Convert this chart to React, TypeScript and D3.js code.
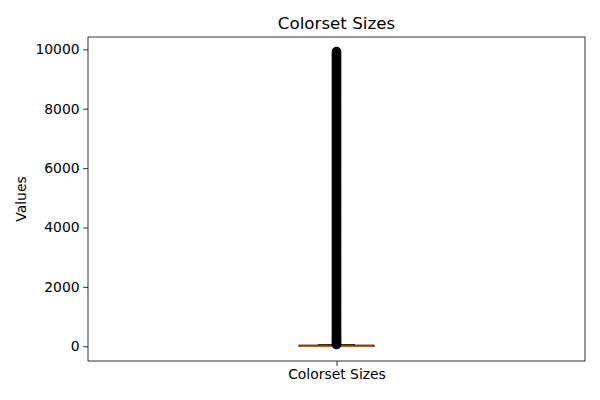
import React, { useEffect, useRef } from "react";
import * as d3 from "d3";

const category = "Colorset Sizes";
const yTicks = [0, 2000, 4000, 6000, 8000, 10000];

// box statistics (values)
const whiskerLow = 0;
const q1 = 1;
const median = 6;
const q3 = 30;
const whiskerHigh = 45;

// outliers above the upper whisker
const fliers = [
  60, 112, 170, 226, 281, 339, 402, 466, 527, 590, 651,
  718, 779, 843, 905, 968, 1031, 1094, 1160, 1221, 1285,
  1349, 1410, 1476, 1538, 1602, 1665, 1729, 1790, 1856, 1918,
  1981, 2045, 2108, 2172, 2236, 2299, 2361, 2427, 2490, 2552,
  2617, 2680, 2744, 2806, 2871, 2933, 2997, 3062, 3124, 3189,
  3251, 3315, 3378, 3442, 3505, 3569, 3632, 3695, 3760, 3822,
  3887, 3949, 4013, 4077, 4140, 4204, 4267, 4331, 4394, 4458,
  4522, 4585, 4649, 4712, 4776, 4839, 4903, 4966, 5030, 5094,
  5157, 5221, 5284, 5348, 5411, 5475, 5539, 5602, 5666, 5729,
  5793, 5856, 5920, 5983, 6047, 6111, 6174, 6238, 6301, 6365,
  6428, 6492, 6556, 6619, 6683, 6746, 6810, 6873, 6937, 7000,
  7064, 7128, 7191, 7255, 7318, 7382, 7445, 7509, 7573, 7636,
  7700, 7763, 7827, 7890, 7954, 8017, 8081, 8145, 8208, 8272,
  8335, 8399, 8462, 8526, 8590, 8653, 8717, 8780, 8844, 8907,
  8971, 9034, 9098, 9162, 9225, 9289, 9352, 9416, 9479, 9543,
  9606, 9670, 9733, 9797, 9860, 9920,
];

const App: React.FC = () => {
  const svgRef = useRef<SVGSVGElement | null>(null);

  useEffect(() => {
    const svg = d3.select(svgRef.current);
    svg.selectAll("*").remove();

    const margin = { top: 37, right: 15, bottom: 39, left: 88 };
    const width = 600 - margin.left - margin.right;
    const height = 400 - margin.top - margin.bottom;
    const font = "DejaVu Sans, sans-serif";

    const lo = Math.min(whiskerLow, d3.min(fliers) ?? 0);
    const hi = Math.max(whiskerHigh, d3.max(fliers) ?? 0);
    const pad = (hi - lo) * 0.05;

    const y = d3.scaleLinear().domain([lo - pad, hi + pad]).range([height, 0]);
    const x = d3.scaleLinear().domain([0.5, 1.5]).range([0, width]);

    const g = svg
      .append("g")
      .attr("transform", `translate(${margin.left},${margin.top})`);

    // y axis
    const yAxis = g
      .append("g")
      .call(d3.axisLeft(y).tickValues(yTicks).tickSize(4.9).tickPadding(3.5).tickFormat(d3.format("d")));
    yAxis.select(".domain").remove();
    yAxis.selectAll("text").attr("font-family", font).attr("font-size", 13.9).attr("fill", "#000");
    yAxis.selectAll("line").attr("stroke", "#000").attr("stroke-width", 0.8);

    // x axis
    const xAxis = g
      .append("g")
      .attr("transform", `translate(0,${height})`)
      .call(d3.axisBottom(x).tickValues([1]).tickSize(4.9).tickPadding(3.5).tickFormat(() => category));
    xAxis.select(".domain").remove();
    xAxis.selectAll("text").attr("font-family", font).attr("font-size", 13.9).attr("fill", "#000");
    xAxis.selectAll("line").attr("stroke", "#000").attr("stroke-width", 0.8);

    const cx = x(1);
    const boxHalf = x(1.075) - x(1);
    const capHalf = x(1.0375) - x(1);

    // whiskers
    g.append("line")
      .attr("x1", cx).attr("x2", cx)
      .attr("y1", y(whiskerLow)).attr("y2", y(q1))
      .attr("stroke", "#000").attr("stroke-width", 1.4);
    g.append("line")
      .attr("x1", cx).attr("x2", cx)
      .attr("y1", y(q3)).attr("y2", y(whiskerHigh))
      .attr("stroke", "#000").attr("stroke-width", 1.4);

    // caps
    [whiskerLow, whiskerHigh].forEach((v) => {
      g.append("line")
        .attr("x1", cx - capHalf).attr("x2", cx + capHalf)
        .attr("y1", y(v)).attr("y2", y(v))
        .attr("stroke", "#000").attr("stroke-width", 1.4);
    });

    // box
    g.append("rect")
      .attr("x", cx - boxHalf)
      .attr("y", y(q3))
      .attr("width", boxHalf * 2)
      .attr("height", y(q1) - y(q3))
      .attr("fill", "none")
      .attr("stroke", "#000")
      .attr("stroke-width", 1.4);

    // median
    g.append("line")
      .attr("x1", cx - boxHalf).attr("x2", cx + boxHalf)
      .attr("y1", y(median)).attr("y2", y(median))
      .attr("stroke", "#ff7f0e").attr("stroke-width", 1.4);

    // fliers (so densely packed they read as a solid column)
    g.append("g")
      .selectAll("circle")
      .data(fliers)
      .enter()
      .append("circle")
      .attr("cx", cx)
      .attr("cy", (d) => y(d))
      .attr("r", 4.17)
      .attr("fill", "#000")
      .attr("stroke", "#000")
      .attr("stroke-width", 1.39);

    // frame
    g.append("rect")
      .attr("width", width)
      .attr("height", height)
      .attr("fill", "none")
      .attr("stroke", "#000")
      .attr("stroke-width", 0.8);

    // title
    svg.append("text")
      .attr("x", margin.left + width / 2)
      .attr("y", margin.top - 8.3)
      .attr("text-anchor", "middle")
      .attr("font-family", font)
      .attr("font-size", 16.7)
      .text("Colorset Sizes");

    // y label
    svg.append("text")
      .attr("transform", `translate(26,${margin.top + height / 2}) rotate(-90)`)
      .attr("text-anchor", "middle")
      .attr("font-family", font)
      .attr("font-size", 13.9)
      .text("Values");
  }, []);

  return (
    <svg
      ref={svgRef}
      width={600}
      height={400}
      style={{ position: "absolute", left: 0, top: 0, background: "#fff" }}
    ></svg>
  );
};

export default App;
